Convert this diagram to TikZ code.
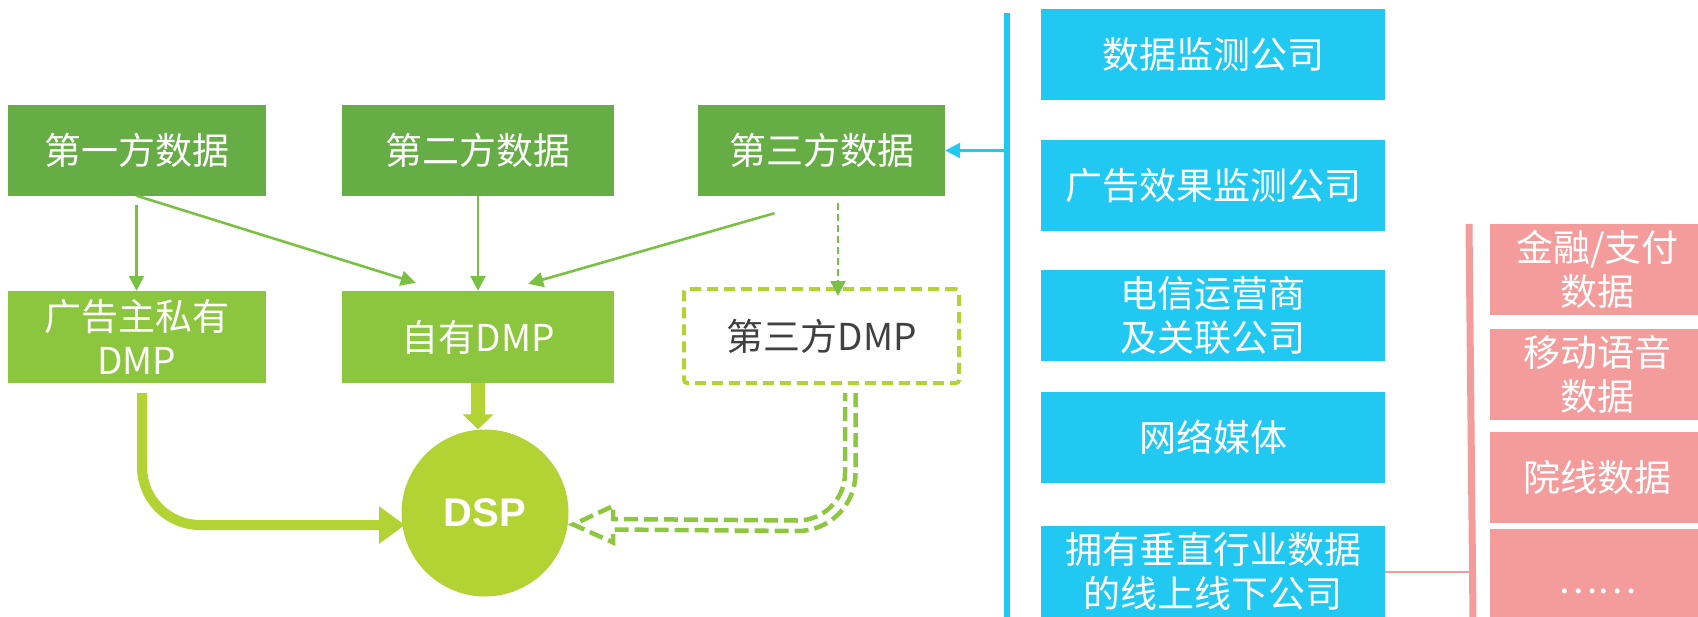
\documentclass[tikz,border=0pt]{standalone}
\usepackage{fontspec}
\newfontfamily\cjk{Noto Sans CJK SC}
\newfontfamily\arialf{Liberation Sans}
\usetikzlibrary{arrows.meta,calc}
\definecolor{gdark}{HTML}{66AD45}
\definecolor{glight}{HTML}{8CC63F}
\definecolor{gyel}{HTML}{B3D335}
\definecolor{garrow}{HTML}{7AC143}
\definecolor{ghollow}{HTML}{8DC63F}
\definecolor{cblue}{HTML}{21C9F2}
\definecolor{cpink}{HTML}{F49B9B}
\definecolor{tgray}{HTML}{404040}
\begin{document}
\begin{tikzpicture}[x=1pt,y=-1pt,
  box/.style={rectangle, inner sep=0pt, align=center, text=white,
    font=\cjk\fontsize{37}{44}\selectfont},
  srcbox/.style={box, fill=gdark, minimum height=91pt},
  dmpbox/.style={box, fill=glight, minimum height=92pt},
  bluebox/.style={box, fill=cblue, minimum width=344pt, minimum height=91pt},
  pinkbox/.style={box, fill=cpink, minimum width=215pt, minimum height=91pt},
  thinarrow/.style={draw=garrow, line width=2.6pt, -{Triangle[length=15pt,width=15pt]}},
  thindash/.style={thinarrow, dash pattern=on 7pt off 4pt},
  thickarrow/.style={draw=gyel, line width=10pt, rounded corners=58pt, -{Triangle[length=26pt,width=36pt]}},
  shortarrow/.style={draw=gyel, line width=14pt, -{Triangle[length=15pt,width=30pt]}},
  hollow/.style={draw=ghollow, line width=4.5pt, dash pattern=on 14pt off 6pt, fill=white},
  bluearrow/.style={draw=cblue, line width=2.5pt, -{Triangle[length=15pt,width=15pt]}},
  pinkline/.style={draw=cpink, line width=2pt}
]
\useasboundingbox (0,0) rectangle (1698,616);
\clip (0,0) rectangle (1698,616);

% source boxes
\node[srcbox, minimum width=258pt] (b1) at (136.5,150) {第一方数据};
\node[srcbox, minimum width=272pt] (b2) at (478,150) {第二方数据};
\node[srcbox, minimum width=247pt] (b3) at (821.5,150.5) {第三方数据};

% DMP boxes
\node[dmpbox, minimum width=258pt] (d1) at (136.5,337) {广告主私有\\DMP};
\node[dmpbox, minimum width=272pt] (d2) at (478,337) {自有DMP};
\node[box, text=tgray, fill=white, draw=gyel, line width=4pt, dash pattern=on 11pt off 6pt,
      rounded corners=3pt, minimum width=275pt, minimum height=94pt] (d3) at (821.5,336) {第三方DMP};

% DSP
\node[circle, fill=gyel, inner sep=0pt, minimum size=167pt, text=white,
      font=\arialf\bfseries\fontsize{40}{48}\selectfont] (dsp) at (485,513) {DSP};

% thin arrows
\draw[thinarrow] ($(b1.south)+(0,9.5)$) -- (d1.north);
\draw[thinarrow] (b1.south) -- ($(d2.north west)+(74,-8)$);
\draw[thinarrow] (b2.south) -- (d2.north);
\draw[thinarrow] ($(b3.south)+(-47,17)$) -- ($(d2.north east)+(-86,-7)$);
\draw[thindash] ($(b3.south)+(16.5,7)$) -- ($(d3.north)+(16.5,9)$);

% thick arrows to DSP
\draw[thickarrow] ($(d1.south)+(5.5,10)$) |- ($(dsp.center)+(-80,12)$);
\draw[shortarrow] (d2.south) -- (d2.south |- dsp.north);

% hollow dashed arrow
\coordinate (hs) at ($(d3.south)+(34,8)$);
\coordinate (ht) at ($(dsp.east)+(4.5,11.5)$);
\draw[hollow] (hs) -- ++(0,80)
   .. controls +(0,32) and +(32,0) .. ++(-58,58)
   -- ($(ht)+(40,5)$)
   -- ($(ht)+(40,18)$)
   -- (ht)
   -- ($(ht)+(40,-18.5)$)
   -- ($(ht)+(40,-5.5)$)
   -- ($(hs)+(-58,127.5)$)
   .. controls +(26.2,0) and +(0,26.2) .. ($(hs)+(-10.5,80)$)
   -- ($(hs)+(-10.5,0)$);

% blue column
\node[bluebox] (c1) at (1213,54.5) {数据监测公司};
\node[bluebox] (c2) at (1213,185.5) {广告效果监测公司};
\node[bluebox] (c3) at (1213,315.5) {电信运营商\\及关联公司};
\node[bluebox] (c4) at (1213,437.5) {网络媒体};
\node[bluebox] (c5) at (1213,571.5) {拥有垂直行业数据\\的线上线下公司};
\draw[cblue, line width=6pt] (1007,13) -- (1007,620);
\coordinate (bb) at (1004,150.5);
\draw[bluearrow] (bb) -- (b3.east);

% pink column
\node[pinkbox] (p1) at (1597.5,269.5) {金融/支付\\数据};
\node[pinkbox] (p2) at (1597.5,374.5) {移动语音\\数据};
\node[pinkbox] (p3) at (1597.5,477.5) {院线数据};
\node[pinkbox] (p4) at (1597.5,574.5) {\vphantom{数据}\raisebox{-5pt}[0pt][0pt]{……}};
\draw[cpink, line width=7pt] (1469,224) -- (1473,620);
\coordinate (pk) at (1469,571.5);
\draw[pinkline] (c5.east) -- (pk);
\end{tikzpicture}
\end{document}
